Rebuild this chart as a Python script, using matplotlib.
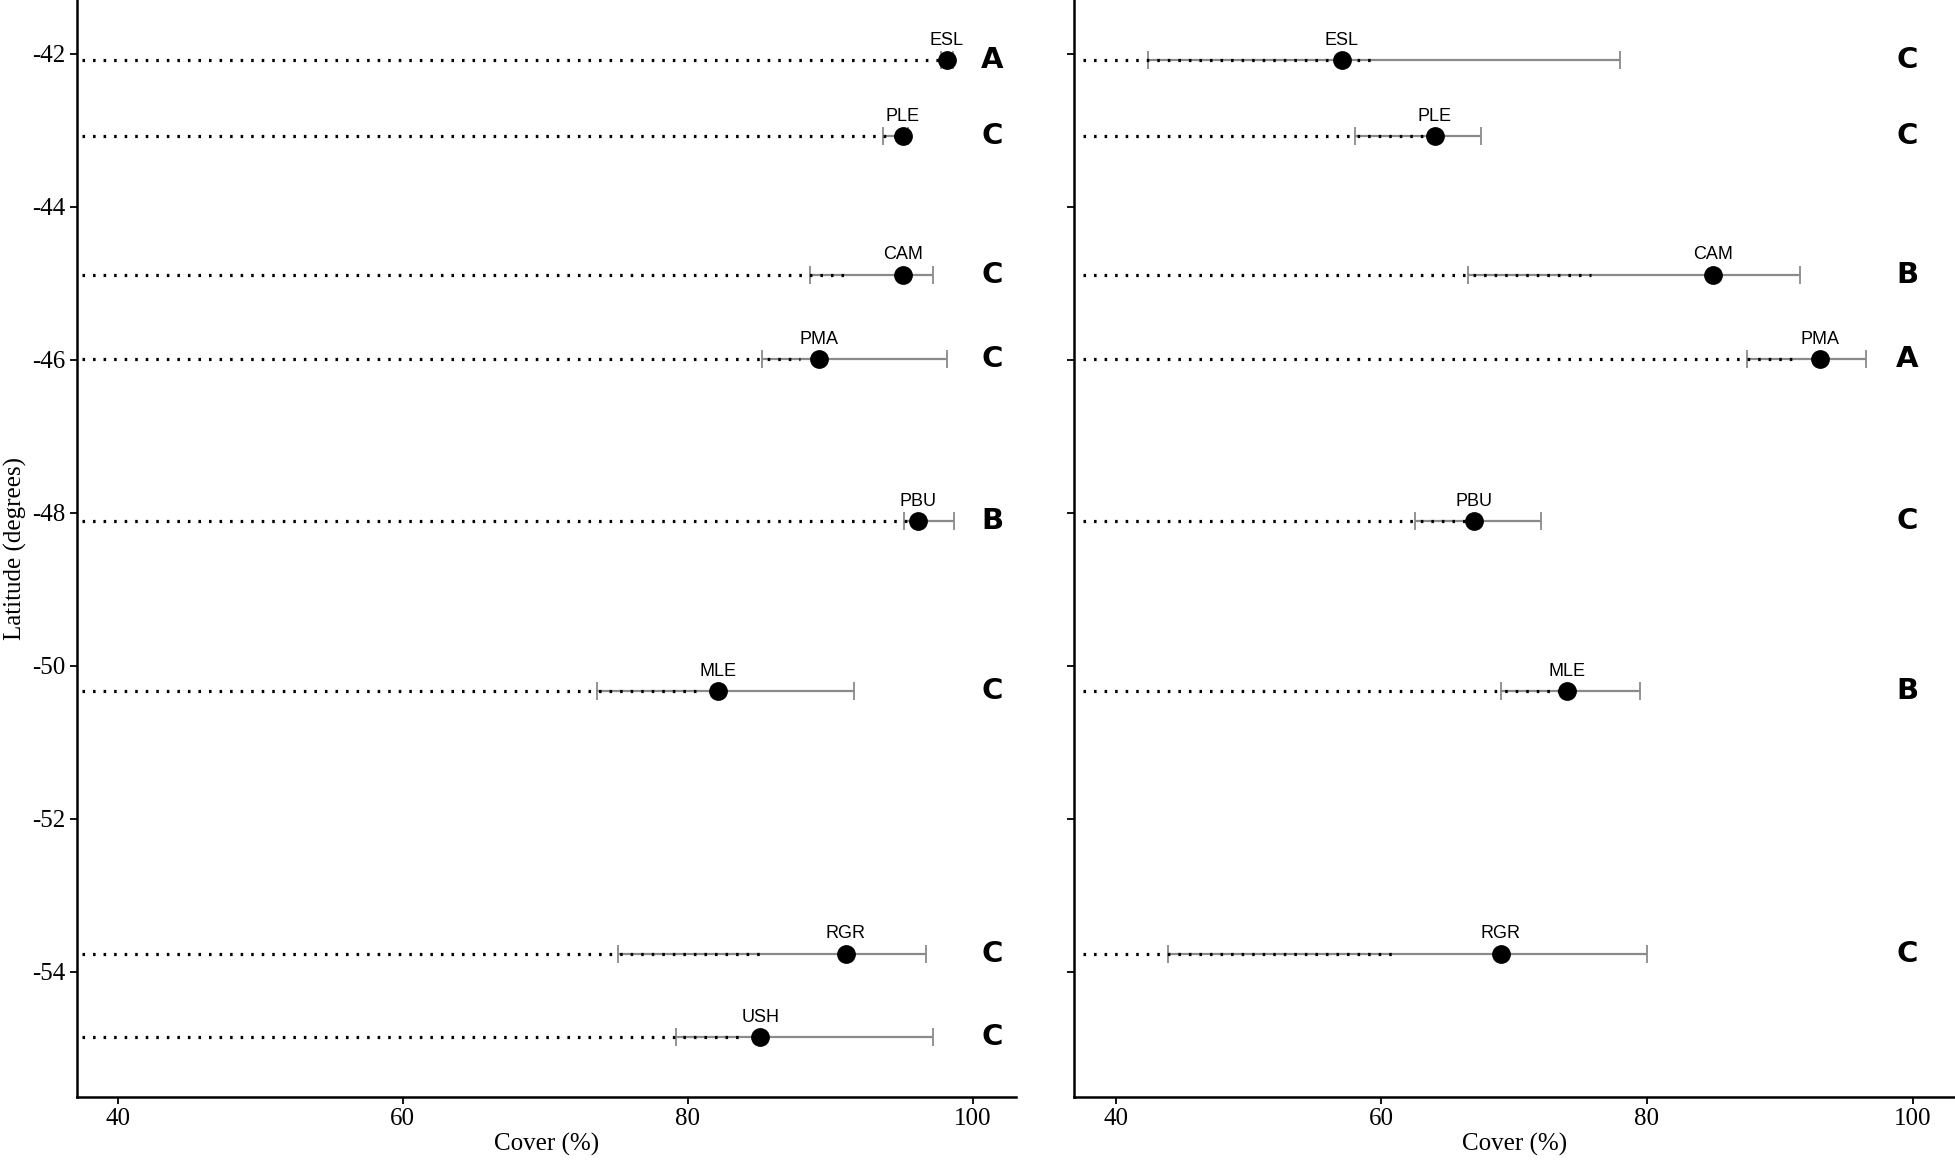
import matplotlib
matplotlib.use("Agg")
import matplotlib.pyplot as plt

plt.rcParams["axes.unicode_minus"] = False

# ---------------- data ----------------
sites = ["ESL", "PLE", "CAM", "PMA", "PBU", "MLE", "RGR", "USH"]
latitude = [-42.09, -43.08, -44.89, -45.99, -48.11, -50.33, -53.76, -54.85]

# left panel
left_cover = [98.2, 95.1, 95.1, 89.2, 96.2, 82.1, 91.1, 85.1]
left_lower = [97.8, 93.7, 88.6, 85.2, 95.2, 73.6, 75.1, 79.2]
left_upper = [98.6, 95.5, 97.2, 98.2, 98.7, 91.7, 96.7, 97.2]
left_guide_end = [98.2, 95.1, 91.0, 87.9, 96.0, 81.0, 85.2, 84.1]
left_letters = ["A", "C", "C", "C", "B", "C", "C", "C"]

# right panel (no USH)
right_sites = ["ESL", "PLE", "CAM", "PMA", "PBU", "MLE", "RGR"]
right_latitude = [-42.09, -43.08, -44.89, -45.99, -48.11, -50.33, -53.76]
right_cover = [57.0, 64.0, 85.0, 93.0, 67.0, 74.0, 69.0]
right_lower = [42.4, 58.0, 66.5, 87.5, 62.5, 69.0, 43.9]
right_upper = [78.0, 67.5, 91.5, 96.5, 72.0, 79.5, 80.0]
right_guide_end = [59.6, 63.5, 75.8, 90.9, 66.4, 73.4, 61.1]
right_letters = ["C", "C", "B", "A", "C", "B", "C"]

x_ticks = [40, 60, 80, 100]
y_ticks = [-42, -44, -46, -48, -50, -52, -54]

# ---------------- figure ----------------
W, H = 1955, 1161
fig = plt.figure(figsize=(W / 100, H / 100), dpi=100)

serif = "Liberation Serif"
sans = "Liberation Sans"

ax_l = fig.add_axes([76.5 / W, 1 - 1096.7 / H, (1016 - 76.5) / W, 1096.7 / H])
ax_r = fig.add_axes([1074.4 / W, 1 - 1096.7 / H, (1955 - 1074.4) / W, 1096.7 / H])


def draw(ax, names, lats, cover, lo, hi, gend, letters, xlim, letter_x):
    ax.set_xlim(*xlim)
    ax.set_ylim(-55.63, -41.30)
    for n, y, c, l, h, g, let in zip(names, lats, cover, lo, hi, gend, letters):
        ax.errorbar([c], [y], xerr=[[c - l], [h - c]], fmt="none",
                    ecolor="#8a8a8a", elinewidth=1.6, capsize=6.5,
                    capthick=1.3, zorder=2)
        ax.plot([37.5, g], [y, y], color="black", lw=2.3,
                linestyle=(0, (0.8, 2.5)), zorder=3)
        ax.plot([c], [y], "o", color="black", markersize=12.5, zorder=4)
        ax.annotate(n, (c, y), xytext=(0, 11), textcoords="offset points",
                    ha="center", va="baseline", fontsize=13, family=sans,
                    zorder=5)
        ax.text(letter_x, y, let, ha="center", va="center", fontsize=21,
                fontweight="heavy", family="DejaVu Sans", zorder=5)
    for s in ["top", "right"]:
        ax.spines[s].set_visible(False)
    for s in ["left", "bottom"]:
        ax.spines[s].set_linewidth(1.8)
    ax.set_xticks(x_ticks)
    ax.set_yticks(y_ticks)
    ax.tick_params(direction="out", length=5, width=1.3, pad=3,
                   labelsize=18)
    for t in ax.get_xticklabels() + ax.get_yticklabels():
        t.set_fontfamily(serif)
    ax.set_xlabel("Cover (%)", fontsize=18, family=serif, labelpad=2)


draw(ax_l, sites, latitude, left_cover, left_lower, left_upper,
     left_guide_end, left_letters, (37.09, 103.05), 101.4)
draw(ax_r, right_sites, right_latitude, right_cover, right_lower,
     right_upper, right_guide_end, right_letters, (36.88, 103.2), 99.6)

ax_r.set_yticklabels([])
ax_l.set_ylabel("Latitude (degrees)", fontsize=18, family=serif, labelpad=4)

fig.savefig("out.png", dpi=100)
